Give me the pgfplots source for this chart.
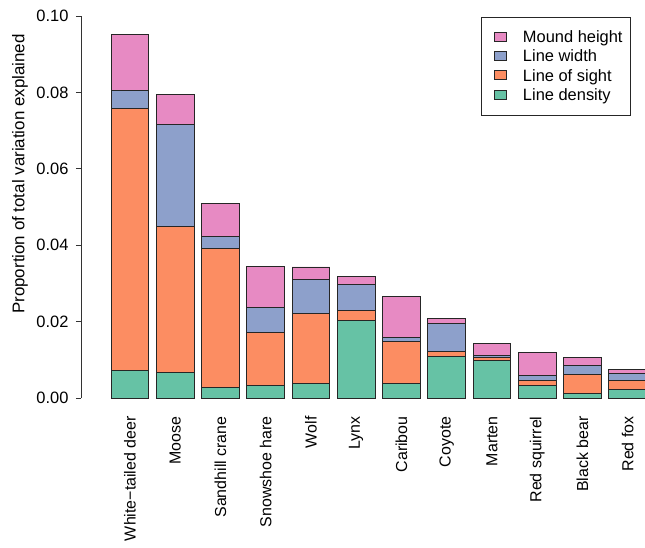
\documentclass[border=0pt]{standalone}
\usepackage{pgfplots}
\usepackage{pgfplotstable}
\pgfplotsset{compat=1.18}
\usepackage{fontspec}
\setmainfont{Liberation Sans}
\definecolor{cDen}{HTML}{66C2A5}
\definecolor{cSight}{HTML}{FC8D62}
\definecolor{cWidth}{HTML}{8DA0CB}
\definecolor{cMound}{HTML}{E78AC3}
\pgfplotstableread{
x den sight width mound
0 0.0073 0.0684 0.0048 0.0146
1 0.0067 0.0381 0.0269 0.0078
2 0.0028 0.0364 0.0031 0.0086
3 0.0032 0.0140 0.0065 0.0108
4 0.0038 0.0184 0.0089 0.0032
5 0.0204 0.0024 0.0070 0.0020
6 0.0038 0.0110 0.0010 0.0108
7 0.0108 0.0013 0.0074 0.0013
8 0.0099 0.0007 0.0005 0.0032
9 0.0032 0.0015 0.0012 0.0061
10 0.0012 0.0049 0.0024 0.0022
11 0.0023 0.0024 0.0017 0.0011
}\datatable
\begin{document}
\begin{tikzpicture}
\path[use as bounding box] (-81bp,-150bp) rectangle (564bp,398bp);
\begin{axis}[
  scale only axis, width=573.8bp, height=382bp,
  at={(0,0)}, anchor=south west,
  xmin=-1.081, xmax=11.6, ymin=0, ymax=0.1,
  axis y line=left, axis x line=bottom,
  x axis line style={draw=none},
  y axis line style={-, line width=0.8bp, black!80},
  ytick={0,0.02,0.04,0.06,0.08,0.1},
  yticklabel style={/pgf/number format/fixed, /pgf/number format/fixed zerofill, /pgf/number format/precision=2, font=\fontsize{16.5}{19}\selectfont, xshift=-4bp},
  /pgf/number format/assume math mode=true,
  tick align=outside, major tick length=5bp,
  ytick style={line width=0.8bp, black!80},
  xtick={0,...,11},
  xticklabels={White−tailed deer,Moose,Sandhill crane,Snowshoe hare,Wolf,Lynx,Caribou,Coyote,Marten,Red squirrel,Black bear,Red fox},
  x tick label style={rotate=90, anchor=east, font=\fontsize{16}{19}\selectfont, xshift=-10bp},
  xtick style={draw=none},
  ylabel={Proportion of total variation explained},
  ylabel style={at={(axis description cs:-0.1063,0.5864)}, anchor=center, font=\fontsize{17}{20}\selectfont},
  ybar stacked, bar width=0.833,
  every axis plot/.append style={draw=black!85, line width=0.9bp},
  legend image code/.code={\path (0bp,0bp); \draw[#1] (7bp,-4bp) rectangle (19bp,5bp);},
  reverse legend,
  legend cell align=left,
  legend style={at={(0.9585,0.9974)}, anchor=north east, draw=black!85, line width=0.8bp,
    font=\fontsize{16.5}{19}\selectfont, row sep=2bp, inner xsep=6bp, inner ysep=11bp,
    /tikz/every odd column/.append style={column sep=14bp}},
]
\addplot[fill=cDen] table[x=x,y=den]{\datatable};
\addplot[fill=cSight] table[x=x,y=sight]{\datatable};
\addplot[fill=cWidth] table[x=x,y=width]{\datatable};
\addplot[fill=cMound] table[x=x,y=mound]{\datatable};
\legend{Line density,Line of sight,Line width,Mound height}
\end{axis}
\end{tikzpicture}
\end{document}
